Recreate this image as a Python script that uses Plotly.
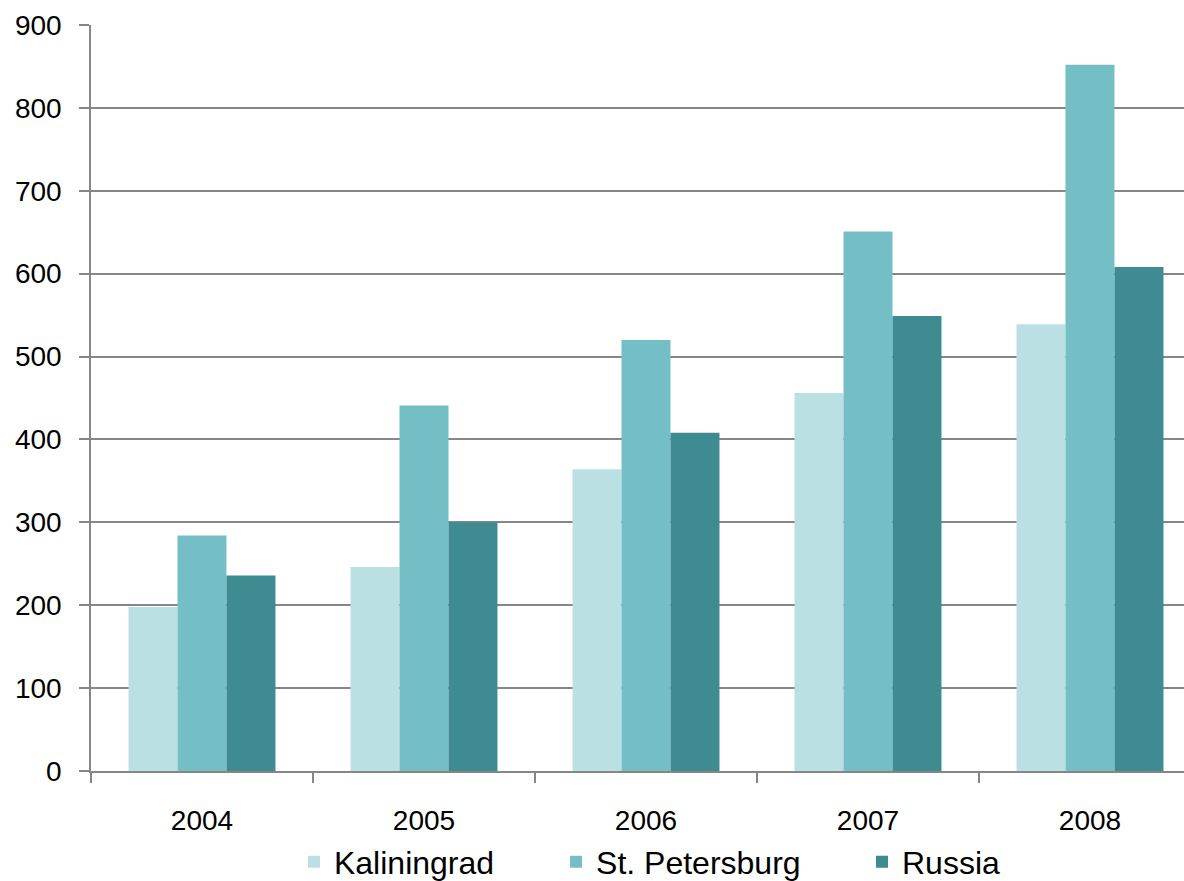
import plotly.graph_objects as go

years = ["2004", "2005", "2006", "2007", "2008"]
kaliningrad = [198, 246, 364, 456, 539]
st_petersburg = [284, 441, 520, 651, 852]
russia = [236, 300, 408, 549, 608]

series_names = ["Kaliningrad", "St. Petersburg", "Russia"]
colors = ["#BBE0E3", "#74BFC5", "#3E8C92"]
y_ticks = [0, 100, 200, 300, 400, 500, 600, 700, 800, 900]

FONT = "Liberation Sans, Arial, sans-serif"

fig = go.Figure()
for i, (name, vals, col) in enumerate(zip(series_names, [kaliningrad, st_petersburg, russia], colors)):
    fig.add_trace(go.Bar(
        x=years, y=vals, name=name,
        marker=dict(color=col, line=dict(width=0)),
        legend="legend" if i == 0 else f"legend{i+1}",
        showlegend=True,
    ))

legend_common = dict(
    orientation="h", yanchor="middle", xanchor="left",
    font=dict(family=FONT, size=32, color="#000000"),
    bgcolor="rgba(0,0,0,0)", borderwidth=0, visible=True,
)

fig.update_layout(
    width=1184, height=881,
    showlegend=True,
    margin=dict(l=91, r=0, t=25, b=110, autoexpand=False),
    paper_bgcolor="white", plot_bgcolor="white",
    barmode="group", bargap=0.338, bargroupgap=0,
    font=dict(family=FONT, color="#000000"),
    legend=dict(x=0.1857, y=-0.122, **legend_common),
    legend2=dict(x=0.4255, y=-0.122, **legend_common),
    legend3=dict(x=0.7054, y=-0.122, **legend_common),
    xaxis=dict(
        type="category",
        range=[-0.5, -0.5 + 1093 / 222],
        tickson="boundaries",
        ticks="outside", ticklen=10, tickwidth=1.5, tickcolor="#868686",
        showline=True, linecolor="#868686", linewidth=1.5,
        showgrid=False,
        tickfont=dict(family=FONT, size=28, color="#000000"),
        ticklabelstandoff=24,
    ),
    yaxis=dict(
        range=[0, 900],
        tickvals=y_ticks,
        ticks="outside", ticklen=10, tickwidth=1.5, tickcolor="#868686",
        showline=True, linecolor="#868686", linewidth=1.5,
        showgrid=True, gridcolor="#868686", gridwidth=1.5,
        zeroline=False,
        tickfont=dict(family=FONT, size=28, color="#000000"),
        ticklabelstandoff=12,
    ),
)

fig.write_html(
    "out.html",
    config={"displayModeBar": False},
    post_script="document.body.style.margin='0';document.body.style.overflow='hidden';",
)
